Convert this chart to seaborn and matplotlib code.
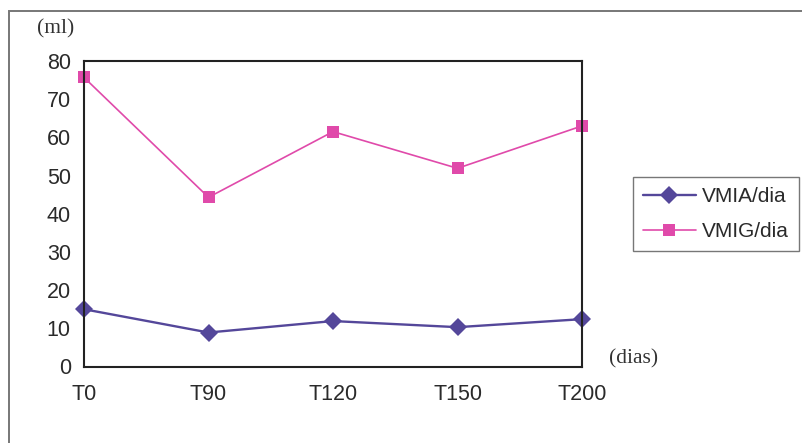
import matplotlib
matplotlib.use("Agg")
import matplotlib.pyplot as plt
from matplotlib.patches import Rectangle
from matplotlib.lines import Line2D
import pandas as pd
import seaborn as sns

# Sampling times and daily mean volumes (ml)
tempos = ["T0", "T90", "T120", "T150", "T200"]
vmia_dia = [15.0, 8.9, 11.9, 10.3, 12.4]
vmig_dia = [75.7, 44.3, 61.5, 51.9, 63.0]
y_ticks = [0, 10, 20, 30, 40, 50, 60, 70, 80]

sns.set_style("white")
plt.rcParams["font.family"] = ["Liberation Sans", "DejaVu Sans"]

df = pd.DataFrame({
    "tempo": tempos * 2,
    "pos": list(range(len(tempos))) * 2,
    "valor": vmia_dia + vmig_dia,
    "serie": ["VMIA/dia"] * len(tempos) + ["VMIG/dia"] * len(tempos),
})

cores = {"VMIA/dia": "#54479a", "VMIG/dia": "#e04aaa"}
marcadores = {"VMIA/dia": "D", "VMIG/dia": "s"}
espessuras = {"VMIA/dia": 1.7, "VMIG/dia": 1.2}
tamanhos = {"VMIA/dia": 9, "VMIG/dia": 8.5}

fig = plt.figure(figsize=(8.02, 4.43), dpi=100)
fig.patch.set_facecolor("white")

# outer frame around the whole chart
fig.patches.append(Rectangle((9 / 802, -0.1), 1.2, 1 - 11 / 443 + 0.1,
                             transform=fig.transFigure, fill=False,
                             edgecolor="#777777", linewidth=1.4))

ax = fig.add_axes([84 / 802, (443 - 366.5) / 443, (582 - 84) / 802, (366.5 - 61) / 443])
for serie in cores:
    sns.lineplot(data=df[df["serie"] == serie], x="pos", y="valor",
                 color=cores[serie], marker=marcadores[serie],
                 markersize=tamanhos[serie], linewidth=espessuras[serie],
                 markeredgewidth=0, ax=ax, legend=False, clip_on=False)

ax.set_xlim(0, len(tempos) - 1)
ax.set_ylim(0, 80)
ax.set_xticks(range(len(tempos)))
ax.set_xticklabels(tempos)
ax.set_yticks(y_ticks)
ax.set_xlabel("")
ax.set_ylabel("")
for s in ax.spines.values():
    s.set_color("#222222")
    s.set_linewidth(1.5)
ax.tick_params(axis="both", direction="inout", length=13, width=1.0,
               color="#333333", labelsize=15.5, labelcolor="#2a2a2a")
ax.tick_params(axis="y", pad=3)
ax.tick_params(axis="x", pad=6)
ax.tick_params(top=False, right=False)

fig.text(37 / 802, 1 - 29 / 443, "(ml)", family="Liberation Serif",
         fontsize=15.5, color="#333333", ha="left", va="center")
fig.text(609 / 802, 1 - 359 / 443, "(dias)", family="Liberation Serif",
         fontsize=15.5, color="#333333", ha="left", va="center")

# legend
handles = [Line2D([], [], color=cores[k], marker=marcadores[k],
                  markersize=tamanhos[k], markeredgewidth=0,
                  linewidth=espessuras[k]) for k in cores]
leg = fig.legend(handles, list(cores), loc="upper left",
                 bbox_to_anchor=(633 / 802, 1 - 177 / 443),
                 frameon=True, fancybox=False, fontsize=15,
                 handlelength=2.5, handletextpad=0.3, labelspacing=0.75,
                 borderpad=0.5, borderaxespad=0)
leg.get_frame().set_edgecolor("#555555")
leg.get_frame().set_linewidth(1.0)
for t in leg.get_texts():
    t.set_color("#2a2a2a")

fig.savefig("out.png", dpi=100, facecolor="white")
